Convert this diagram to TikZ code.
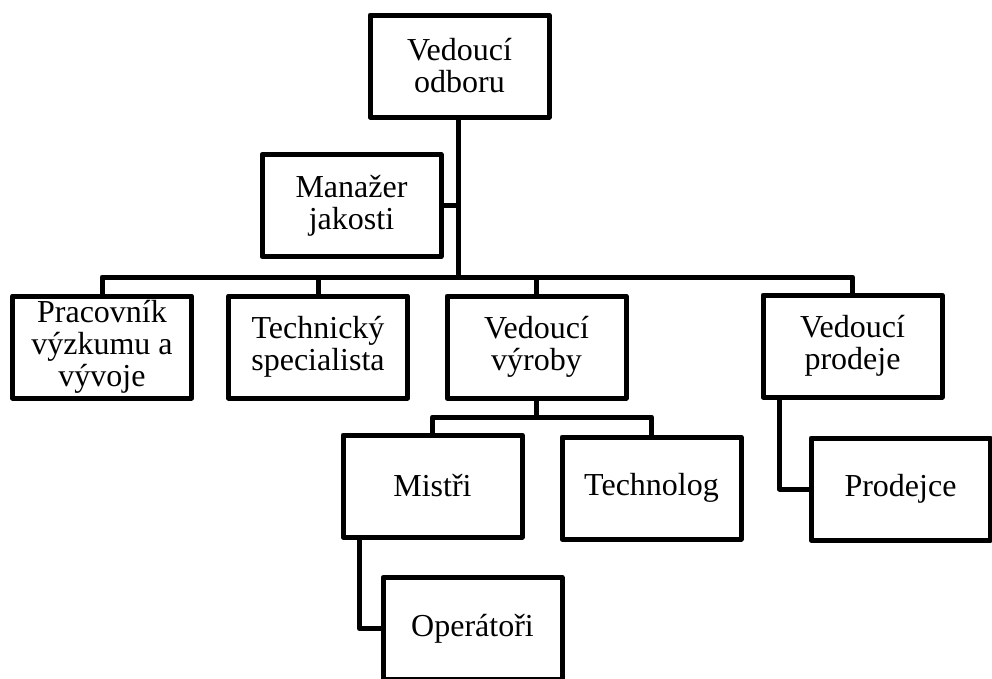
\documentclass[tikz,border=0pt]{standalone}
\usepackage{fontspec}
\setmainfont{Liberation Serif}
\begin{document}
\begin{tikzpicture}[x=1pt,y=-1pt,
  box/.style={draw=black,line width=5pt,line join=round,fill=white,
    minimum width=179pt,minimum height=102pt,inner sep=0pt,align=center,
    font=\fontsize{32}{32}\selectfont},
  conn/.style={draw=black,line width=5pt,line join=round}]
\useasboundingbox (0,0) rectangle (992,678);
\clip (0,0) rectangle (992,678);
\node[box] (odboru) at (459.5,66) {Vedoucí\\odboru};
\node[box] (manazer) at (351.5,205.5) {Manažer\\jakosti};
\node[box] (prac) at (102,347) {Pracovník\\výzkumu a\\vývoje};
\node[box] (tech) at (318,347) {Technický\\specialista};
\node[box] (vyroby) at (536.5,347) {Vedoucí\\výroby};
\node[box] (prodeje) at (852.5,346) {Vedoucí\\prodeje};
\node[box] (mistri) at (432.5,486) {Mistři};
\node[box] (technolog) at (651.5,488) {Technolog};
\node[box] (prodejce) at (900.5,489) {Prodejce};
\node[box] (operatori) at (472.5,628.5) {Operátoři};
\coordinate (b) at (458,277);
\coordinate (b2) at (536.5,417);
\draw[conn] (odboru.south -| b) -- (b);
\draw[conn] (manazer.east) -- (manazer.east -| b);
\draw[conn] (prac.north) -- (prac.north |- b) -- (prodeje.north |- b) -- (prodeje.north);
\draw[conn] (tech.north) -- (tech.north |- b);
\draw[conn] (vyroby.north) -- (vyroby.north |- b);
\draw[conn] (vyroby.south) -- (b2);
\draw[conn] (mistri.north) -- (mistri.north |- b2) -- (technolog.north |- b2) -- (technolog.north);
\draw[conn] ([xshift=19pt]mistri.south west) |- (operatori.west);
\draw[conn] ([xshift=19pt]prodeje.south west) |- (prodejce.west);
\end{tikzpicture}
\end{document}
